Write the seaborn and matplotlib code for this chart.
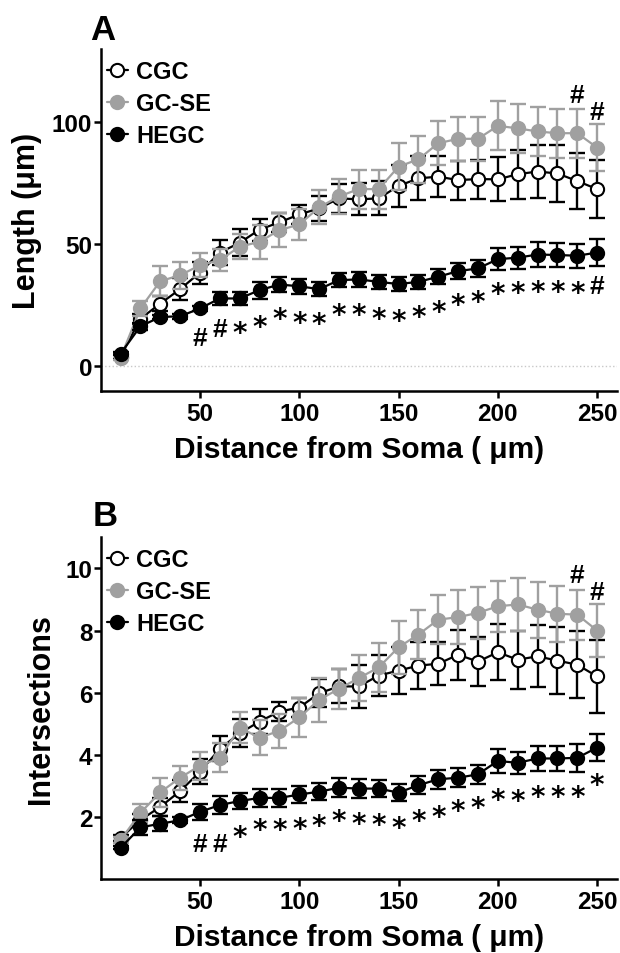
import matplotlib
matplotlib.use("Agg")
import matplotlib.pyplot as plt
import seaborn as sns
import pandas as pd

# ---------------- data ----------------
radius = [10, 20, 30, 40, 50, 60, 70, 80, 90, 100, 110, 120, 130,
          140, 150, 160, 170, 180, 190, 200, 210, 220, 230, 240, 250]
groups = ["CGC", "GC-SE", "HEGC"]

# Panel A: dendritic length (um), mean and SEM
len_cgc = [4.0, 19.5, 25.7, 31.6, 38.4, 46.6, 50.6, 56.0, 59.0, 62.2, 64.7, 68.8, 68.4,
           68.8, 73.9, 77.0, 77.7, 76.3, 76.7, 76.6, 78.7, 79.8, 79.0, 75.9, 72.6]
len_cgc_sem = [1.0, 2.0, 3.0, 4.5, 4.5, 5.0, 5.5, 4.5, 4.0, 4.0, 5.0, 6.0, 6.5,
               7.0, 8.5, 9.0, 8.5, 8.0, 8.0, 9.0, 10.0, 11.0, 11.5, 11.5, 12.0]
len_gcse = [3.5, 23.7, 34.9, 37.3, 41.4, 43.5, 49.0, 51.0, 55.8, 58.1, 65.1, 69.6, 72.6,
            72.6, 81.8, 84.8, 91.4, 93.2, 93.2, 98.5, 97.5, 96.2, 95.5, 95.5, 89.6]
len_gcse_sem = [1.0, 3.0, 6.0, 5.5, 5.0, 4.5, 5.0, 7.0, 7.0, 6.5, 7.0, 7.0, 8.0,
                8.0, 9.5, 9.5, 9.0, 9.0, 9.0, 10.0, 10.0, 10.0, 10.0, 10.0, 9.5]
len_hegc = [5.2, 16.4, 20.2, 20.5, 23.7, 27.8, 27.8, 31.2, 33.5, 32.8, 31.6, 35.3, 35.6,
            34.6, 33.7, 34.6, 36.7, 39.0, 40.1, 43.9, 44.5, 45.8, 45.6, 45.3, 46.6]
len_hegc_sem = [0.5, 1.5, 1.0, 1.0, 1.0, 2.5, 2.8, 3.5, 3.0, 3.0, 2.8, 3.0, 3.0,
                3.0, 3.0, 3.0, 3.0, 3.3, 3.5, 4.5, 4.5, 5.0, 5.0, 5.0, 5.5]

# Panel B: intersections, mean and SEM
int_cgc = [1.32, 1.9, 2.32, 2.83, 3.45, 4.19, 4.69, 5.07, 5.39, 5.52, 5.98, 6.2, 6.2,
           6.55, 6.71, 6.87, 6.93, 7.22, 7.0, 7.3, 7.06, 7.17, 7.03, 6.9, 6.52]
int_cgc_sem = [0.1, 0.2, 0.3, 0.35, 0.4, 0.4, 0.45, 0.4, 0.3, 0.3, 0.45, 0.55, 0.68,
               0.67, 0.75, 0.75, 0.7, 0.8, 0.8, 0.9, 0.94, 1.0, 1.08, 1.08, 1.16]
int_gcse = [1.25, 2.13, 2.79, 3.26, 3.65, 3.9, 4.87, 4.55, 4.77, 5.2, 5.77, 6.12, 6.47,
            6.81, 7.46, 7.87, 8.35, 8.43, 8.57, 8.78, 8.84, 8.67, 8.54, 8.51, 8.0]
int_gcse_sem = [0.1, 0.3, 0.47, 0.39, 0.45, 0.47, 0.5, 0.56, 0.55, 0.62, 0.7, 0.65, 0.75,
                0.8, 0.86, 0.8, 0.8, 0.86, 0.83, 0.83, 0.86, 0.9, 0.9, 0.8, 0.86]
int_hegc = [1.0, 1.66, 1.78, 1.89, 2.16, 2.38, 2.51, 2.61, 2.61, 2.72, 2.81, 2.94, 2.91,
            2.91, 2.78, 3.02, 3.21, 3.26, 3.37, 3.8, 3.74, 3.88, 3.88, 3.9, 4.23]
int_hegc_sem = [0.05, 0.25, 0.25, 0.1, 0.25, 0.3, 0.26, 0.28, 0.28, 0.28, 0.28, 0.3, 0.3,
                0.28, 0.28, 0.28, 0.3, 0.3, 0.3, 0.38, 0.36, 0.4, 0.4, 0.44, 0.43]

# significance marks (x, symbol, y)
markA_x = [50, 60, 70, 80, 90, 100, 110, 120, 130, 140, 150, 160, 170, 180, 190,
           200, 210, 220, 230, 240, 250, 240, 250]
markA_sym = ["#", "#", "*", "*", "*", "*", "*", "*", "*", "*", "*", "*", "*", "*", "*",
             "*", "*", "*", "*", "*", "#", "#", "#"]
markA_y = [12.3, 16.1, 17.1, 19.8, 23.0, 21.2, 21.0, 24.4, 24.4, 23.0, 22.3, 23.7, 25.7,
           28.5, 29.8, 33.2, 33.5, 33.9, 33.9, 33.5, 33.9, 112.0, 105.0]
markB_x = [50, 60, 70, 80, 90, 100, 110, 120, 130, 140, 150, 160, 170, 180, 190,
           200, 210, 220, 230, 240, 250, 240, 250]
markB_sym = ["#", "#", "*", "*", "*", "*", "*", "*", "*", "*", "*", "*", "*", "*", "*",
             "*", "*", "*", "*", "*", "*", "#", "#"]
markB_y = [1.19, 1.19, 1.64, 1.84, 1.84, 1.89, 1.97, 2.16, 2.05, 2.03, 1.92, 2.16, 2.27,
           2.48, 2.57, 2.83, 2.79, 2.91, 2.91, 2.91, 3.29, 9.86, 9.29]

x_ticks = [50, 100, 150, 200, 250]
yA_ticks = [0, 50, 100]
yB_ticks = [2, 4, 6, 8, 10]

# ---------------- style ----------------
sns.set_style("ticks")
plt.rcParams["font.family"] = ["Liberation Sans", "DejaVu Sans"]
plt.rcParams["font.weight"] = "bold"
plt.rcParams["axes.labelweight"] = "bold"
for k in ("text.color", "axes.labelcolor", "xtick.color", "ytick.color",
          "xtick.labelcolor", "ytick.labelcolor", "axes.edgecolor"):
    plt.rcParams[k] = "black"

GRAY = "#a0a0a0"
styles = {
    "CGC": dict(color="black", mfc="white", mec="black", ecol="black"),
    "GC-SE": dict(color=GRAY, mfc=GRAY, mec=GRAY, ecol=GRAY),
    "HEGC": dict(color="black", mfc="black", mec="black", ecol="black"),
}

fig = plt.figure(figsize=(6.2, 9.54), dpi=100)
axA = fig.add_axes([0.1624, 0.5894, 0.8327, 0.3582])
axB = fig.add_axes([0.1624, 0.0776, 0.8327, 0.3581])


def draw_panel(ax, means, sems, marks, ylim, yticks, ylabel, zero_line):
    for i, g in enumerate(groups):
        st = styles[g]
        df = pd.DataFrame({"radius": radius, "value": means[i]})
        ax.errorbar(radius, means[i], yerr=sems[i], fmt="none", ecolor=st["ecol"],
                    elinewidth=1.7, capsize=5.5, capthick=1.7, zorder=3 + 2 * i)
        sns.lineplot(data=df, x="radius", y="value", ax=ax, color=st["color"],
                     marker="o", markersize=9.5, markerfacecolor=st["mfc"],
                     markeredgecolor=st["mec"], markeredgewidth=1.5, linewidth=1.6,
                     label=g, zorder=4 + 2 * i)
    if zero_line:
        ax.axhline(0, color="#c8c8c8", ls=":", lw=1.0, zorder=1)
    mx, msym, my = marks
    for x, s, y in zip(mx, msym, my):
        if s == "*":
            ax.annotate(s, (x, y), xytext=(0, -12), textcoords="offset points",
                        ha="center", va="baseline", fontsize=20, fontweight="bold",
                        family="DejaVu Sans", color="black", zorder=20)
        else:
            ax.annotate(s, (x, y), xytext=(0, -6.5), textcoords="offset points",
                        ha="center", va="baseline", fontsize=19, fontweight="bold",
                        color="black", zorder=20)
    ax.set_xlim(0, 260)
    ax.set_ylim(*ylim)
    ax.set_xticks(x_ticks)
    ax.set_yticks(yticks)
    ax.set_xlabel("Distance from Soma ( \u03bcm)", fontsize=21.5, fontweight="bold",
                  labelpad=7)
    ax.set_ylabel(ylabel, fontsize=22, fontweight="bold", labelpad=7)
    ax.tick_params(axis="both", which="major", direction="out", length=5, width=1.8,
                   labelsize=17.5, color="black", labelcolor="black")
    ax.tick_params(axis="x", pad=3)
    ax.tick_params(axis="y", pad=1)
    for lab in ax.get_xticklabels() + ax.get_yticklabels():
        lab.set_fontweight("bold")
    sns.despine(ax=ax)
    for sp in ("left", "bottom"):
        ax.spines[sp].set_linewidth(1.8)
        ax.spines[sp].set_color("black")
    ax.legend(loc="upper left", bbox_to_anchor=(-0.016, 1.009), frameon=False,
              handlelength=0.9, handletextpad=0.35, labelspacing=0.375,
              borderaxespad=0.2, prop=dict(size=17, weight="bold"))


draw_panel(axA, [len_cgc, len_gcse, len_hegc], [len_cgc_sem, len_gcse_sem, len_hegc_sem],
           (markA_x, markA_sym, markA_y), (-10, 130), yA_ticks, "Length (\u03bcm)", True)
draw_panel(axB, [int_cgc, int_gcse, int_hegc], [int_cgc_sem, int_gcse_sem, int_hegc_sem],
           (markB_x, markB_sym, markB_y), (0, 11), yB_ticks, "Intersections", False)

fig.text(0.146, 0.985, "A", fontsize=25, fontweight="bold", va="top", ha="left")
fig.text(0.150, 0.476, "B", fontsize=25, fontweight="bold", va="top", ha="left")

fig.savefig("out.png", dpi=100)
